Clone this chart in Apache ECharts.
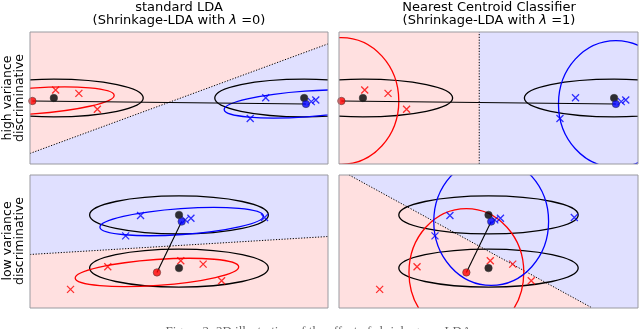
<!DOCTYPE html>
<html><head><meta charset="utf-8">
<script src="https://cdn.jsdelivr.net/npm/echarts@6/dist/echarts.min.js"></script>
<style>html,body{margin:0;padding:0;background:#fff}#c{width:640px;height:329px}</style>
</head><body><div id="c"></div>
<script>
// ---------- data (x in -5..5, y in -2..2) ----------
// top row: "high variance discriminative"
const hiRedX = [[-4.14, 0.24], [-3.36, 0.14], [-2.74, -0.34]];
const hiBlueX = [[2.91, 0.01], [2.39, -0.62], [4.44, -0.11], [4.59, -0.06]];
const hiTrueMeans = [[-4.2, 0], [4.2, 0]];
const hiRedMean = [-4.92, -0.09];
const hiBlueMean = [4.26, -0.18];
const hiBoundaryLDA = [[-5, -1.68], [5, 1.64]];
const hiBoundaryNC = [[-0.31, -2], [-0.31, 2]];
// bottom row: "low variance discriminative"
const loRedX = [[-2.39, -0.76], [-3.64, -1.44], [0.06, -0.58], [0.81, -0.68], [1.43, -1.18]];
const loBlueX = [[-1.29, 0.78], [-1.79, 0.17], [0.21, 0.65], [0.40, 0.70], [2.87, 0.72]];
const loTrueMeans = [[0, 0.8], [0, -0.8]];
const loRedMean = [-0.74, -0.93];
const loBlueMean = [0.09, 0.6];
const loBoundaryLDA = [[-5, -0.39], [5, 0.15]];
const loBoundaryNC = [[-4.66, 2], [3.47, -2]];
// covariance shapes: [semi-axis x, semi-axis y, tilt in degrees]
const trueCov = [3.0, 0.57, 0];
const estCov = [2.75, 0.39, 4];
const ncCov = [1.92, 1.92, 0];
// axis ranges
const xRange = [-5, 5];
const yRange = [-2, 2];

// ---------- styles ----------
const PINK = '#FFE0E0', LAV = '#E0E0FF', RED = '#FF0000', BLUE = '#0000FF';
const panels = [
  {left: 30, top: 32, width: 298, height: 132},
  {left: 339, top: 32, width: 299, height: 132},
  {left: 30, top: 175, width: 298, height: 133},
  {left: 339, top: 175, width: 299, height: 133}
];

function regionPoly(boundary, corners) { return boundary.concat(corners); }

function regionSeries(i, poly) {
  return {type: 'custom', xAxisIndex: i, yAxisIndex: i, clip: true, silent: true, z: 1,
    data: [[0, 0]],
    renderItem: (params, api) => ({type: 'polygon', shape: {points: poly.map(p => api.coord(p))}, style: {fill: PINK}})};
}
function ellipseSeries(i, centers, cov, color, z) {
  return {type: 'custom', xAxisIndex: i, yAxisIndex: i, clip: true, silent: true, z: z,
    data: centers.map(c => [c[0], c[1]]),
    renderItem: (params, api) => {
      const c = api.coord([api.value(0), api.value(1)]);
      const s = api.size([cov[0], cov[1]]);
      return {type: 'ellipse', x: c[0], y: c[1], rotation: cov[2] * Math.PI / 180,
        shape: {cx: 0, cy: 0, rx: s[0], ry: s[1]},
        style: {fill: 'none', stroke: color, lineWidth: 1.3}};
    }};
}
function lineSeries(i, pts, style, z) {
  return {type: 'line', xAxisIndex: i, yAxisIndex: i, data: pts, symbol: 'none', silent: true, z: z,
    lineStyle: style, animation: false};
}
const XSYM = 'path://M0,0L10,10M10,0L0,10';
function crossSeries(i, pts, color) {
  return {type: 'scatter', xAxisIndex: i, yAxisIndex: i, data: pts, symbol: XSYM, symbolSize: 7, silent: true, z: 6,
    itemStyle: {color: 'rgba(0,0,0,0)', borderColor: color, borderWidth: 1.3}};
}
function dotSeries(i, pts, color) {
  return {type: 'scatter', xAxisIndex: i, yAxisIndex: i, data: pts, symbol: 'circle', symbolSize: 7.5, silent: true, z: 7,
    itemStyle: {color: color, borderColor: '#333', borderWidth: 0.6}};
}
function frameSeries(i) {
  return {type: 'custom', xAxisIndex: i, yAxisIndex: i, silent: true, z: 10, data: [[0, 0]],
    renderItem: (params, api) => {
      const a = api.coord([xRange[0], yRange[1]]), b = api.coord([xRange[1], yRange[0]]);
      return {type: 'rect', shape: {x: a[0], y: a[1], width: b[0] - a[0], height: b[1] - a[1]},
        style: {fill: 'none', stroke: '#9a9aa0', lineWidth: 1}};
    }};
}
const dotted = {color: '#000', width: 1, type: [1.2, 1.6]};
const meanLine = {color: '#000', width: 1.1};

const series = [];
// Panel 0: standard LDA, high variance
series.push(regionSeries(0, regionPoly(hiBoundaryLDA, [[xRange[1], yRange[1]], [xRange[0], yRange[1]]])));
series.push(lineSeries(0, hiBoundaryLDA, dotted, 2));
series.push(ellipseSeries(0, hiTrueMeans, trueCov, '#000', 3));
series.push(ellipseSeries(0, [hiRedMean], estCov, RED, 4));
series.push(ellipseSeries(0, [hiBlueMean], estCov, BLUE, 4));
series.push(lineSeries(0, [hiRedMean, hiBlueMean], meanLine, 5));
series.push(crossSeries(0, hiRedX, RED), crossSeries(0, hiBlueX, BLUE));
series.push(dotSeries(0, hiTrueMeans, '#000'), dotSeries(0, [hiRedMean], RED), dotSeries(0, [hiBlueMean], BLUE));
// Panel 1: nearest centroid, high variance
series.push(regionSeries(1, regionPoly(hiBoundaryNC, [[xRange[0], yRange[1]], [xRange[0], yRange[0]]])));
series.push(lineSeries(1, hiBoundaryNC, dotted, 2));
series.push(ellipseSeries(1, hiTrueMeans, trueCov, '#000', 3));
series.push(ellipseSeries(1, [hiRedMean], ncCov, RED, 4));
series.push(ellipseSeries(1, [hiBlueMean], ncCov, BLUE, 4));
series.push(lineSeries(1, [hiRedMean, hiBlueMean], meanLine, 5));
series.push(crossSeries(1, hiRedX, RED), crossSeries(1, hiBlueX, BLUE));
series.push(dotSeries(1, hiTrueMeans, '#000'), dotSeries(1, [hiRedMean], RED), dotSeries(1, [hiBlueMean], BLUE));
// Panel 2: standard LDA, low variance
series.push(regionSeries(2, regionPoly(loBoundaryLDA, [[xRange[1], yRange[0]], [xRange[0], yRange[0]]])));
series.push(lineSeries(2, loBoundaryLDA, dotted, 2));
series.push(ellipseSeries(2, loTrueMeans, trueCov, '#000', 3));
series.push(ellipseSeries(2, [loRedMean], estCov, RED, 4));
series.push(ellipseSeries(2, [loBlueMean], estCov, BLUE, 4));
series.push(lineSeries(2, [loRedMean, loBlueMean], meanLine, 5));
series.push(crossSeries(2, loRedX, RED), crossSeries(2, loBlueX, BLUE));
series.push(dotSeries(2, loTrueMeans, '#000'), dotSeries(2, [loRedMean], RED), dotSeries(2, [loBlueMean], BLUE));
// Panel 3: nearest centroid, low variance
series.push(regionSeries(3, regionPoly(loBoundaryNC, [[xRange[0], yRange[0]], [xRange[0], yRange[1]]])));
series.push(lineSeries(3, loBoundaryNC, dotted, 2));
series.push(ellipseSeries(3, loTrueMeans, trueCov, '#000', 3));
series.push(ellipseSeries(3, [loRedMean], ncCov, RED, 4));
series.push(ellipseSeries(3, [loBlueMean], ncCov, BLUE, 4));
series.push(lineSeries(3, [loRedMean, loBlueMean], meanLine, 5));
series.push(crossSeries(3, loRedX, RED), crossSeries(3, loBlueX, BLUE));
series.push(dotSeries(3, loTrueMeans, '#000'), dotSeries(3, [loRedMean], RED), dotSeries(3, [loBlueMean], BLUE));
for (let i = 0; i < 4; i++) series.push(frameSeries(i));

const FONT = '"DejaVu Sans", sans-serif';
const titleStyle = {fontFamily: FONT, fontSize: 13, fontWeight: 'normal', color: '#000', lineHeight: 12.5,
  rich: {i: {fontFamily: FONT, fontStyle: 'italic', fontSize: 13, color: '#000', lineHeight: 12.5}}};

const chart = echarts.init(document.getElementById('c'), null, {renderer: 'canvas'});
chart.setOption({
  animation: false,
  title: [
    {text: 'standard LDA\n(Shrinkage-LDA with {i|λ} =0)', left: 179, top: 1.5, textAlign: 'center', padding: 0, textStyle: titleStyle},
    {text: 'Nearest Centroid Classifier\n(Shrinkage-LDA with {i|λ} =1)', left: 489, top: 1.5, textAlign: 'center', padding: 0, textStyle: titleStyle}
  ],
  grid: panels.map(p => Object.assign({}, p, {show: true, backgroundColor: LAV, borderWidth: 0, containLabel: false})),
  xAxis: panels.map((p, i) => ({type: 'value', gridIndex: i, min: xRange[0], max: xRange[1], show: false})),
  yAxis: panels.map((p, i) => ({type: 'value', gridIndex: i, min: yRange[0], max: yRange[1], show: false})),
  graphic: [
    {type: 'text', x: 14, y: 98, rotation: Math.PI / 2,
      style: {text: 'high variance\ndiscriminative', font: '12.5px ' + FONT, fill: '#000', align: 'center', verticalAlign: 'middle', lineHeight: 12}},
    {type: 'text', x: 14, y: 241, rotation: Math.PI / 2,
      style: {text: 'low variance\ndiscriminative', font: '12.5px ' + FONT, fill: '#000', align: 'center', verticalAlign: 'middle', lineHeight: 12}},
    {type: 'text', x: 320, y: 325,
      style: {text: 'Figure 2: 2D illustration of the effect of shrinkage on LDA.', font: '13px "Liberation Serif", serif', fill: '#666', align: 'center', verticalAlign: 'top'}}
  ],
  series: series
});
</script></body></html>
